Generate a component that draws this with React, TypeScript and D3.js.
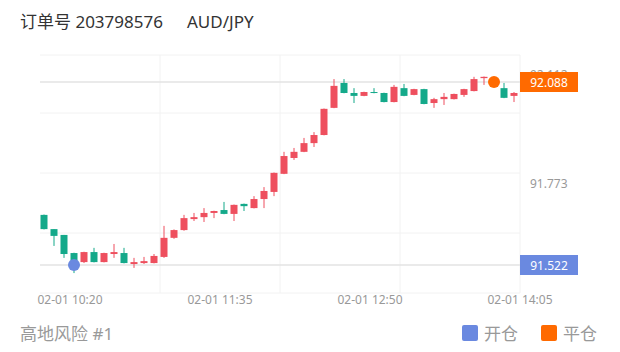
import React from "react";
import * as d3 from "d3";

// 5-minute candles, 02-01 10:05 .. 14:05
const opens = [91.677, 91.633, 91.615, 91.559, 91.531, 91.562, 91.531, 91.556, 91.559, 91.525, 91.528, 91.528, 91.547, 91.606, 91.630, 91.664, 91.670, 91.683, 91.692, 91.680, 91.711, 91.698, 91.726, 91.748, 91.804, 91.853, 91.872, 91.899, 91.924, 92.008, 92.085, 92.054, 92.045, 92.057, 92.054, 92.026, 92.069, 92.048, 92.066, 92.023, 92.035, 92.035, 92.048, 92.060, 92.100, 92.094, 92.069, 92.045];
const highs = [91.678, 91.633, 91.615, 91.560, 91.563, 91.575, 91.560, 91.587, 91.575, 91.544, 91.547, 91.556, 91.643, 91.632, 91.677, 91.683, 91.698, 91.690, 91.717, 91.709, 91.712, 91.735, 91.763, 91.808, 91.872, 91.884, 91.915, 91.933, 92.006, 92.097, 92.097, 92.069, 92.058, 92.069, 92.055, 92.079, 92.082, 92.067, 92.067, 92.039, 92.054, 92.052, 92.067, 92.104, 92.105, 92.100, 92.085, 92.057];
const lows = [91.632, 91.581, 91.544, 91.497, 91.528, 91.530, 91.530, 91.544, 91.527, 91.513, 91.525, 91.527, 91.544, 91.603, 91.628, 91.658, 91.655, 91.667, 91.679, 91.658, 91.689, 91.697, 91.698, 91.735, 91.803, 91.847, 91.871, 91.887, 91.923, 92.007, 92.053, 92.023, 92.044, 92.053, 92.025, 92.025, 92.044, 92.047, 92.019, 92.008, 92.017, 92.034, 92.042, 92.059, 92.079, 92.072, 92.038, 92.026];
const closes = [91.633, 91.612, 91.556, 91.531, 91.562, 91.531, 91.559, 91.562, 91.528, 91.531, 91.534, 91.550, 91.606, 91.630, 91.667, 91.670, 91.683, 91.689, 91.680, 91.708, 91.704, 91.726, 91.751, 91.807, 91.859, 91.872, 91.899, 91.924, 92.005, 92.076, 92.054, 92.045, 92.057, 92.054, 92.026, 92.073, 92.045, 92.066, 92.020, 92.035, 92.042, 92.051, 92.066, 92.097, 92.104, 92.073, 92.039, 92.054];

const startTime = new Date(2024, 1, 1, 10, 5);
const endTime = new Date(2024, 1, 1, 14, 5);
const tickTimes = ["10:20", "11:35", "12:50", "14:05"];
const yTicks = [92.112, 91.773];

const openPrice = 91.522;
const openIndex = 3;
const closePrice = 92.088;
const closeIndex = 45;

const orderNo = "203798576";
const symbol = "AUD/JPY";
const accountName = "高地风险 #1";

const UP = "#ee4f5e";
const DOWN = "#14a98a";
const OPEN_C = "#6a89e0";
const CLOSE_C = "#ff6a00";
const FONT = "'Noto Sans', 'Noto Sans CJK SC', sans-serif";

export default function App() {
  const W = 620, H = 352;
  const left = 40, right = 520, top = 55, bottom = 293;

  const x = d3.scaleTime().domain([startTime, endTime]).range([left, right]);
  const y = d3.scaleLinear().domain([openPrice, closePrice]).range([265, 82]);

  const candleTime = (i: number) => d3.timeMinute.offset(startTime, i * 5 + 2.5);
  const step = x(d3.timeMinute.offset(startTime, 5)) - x(startTime);
  const bodyW = step * 0.7;

  const hLines = [top, 113, 173, 233, bottom];
  const vLines = [160, 280, 400, right];

  const parseHM = (s: string) => {
    const [h, m] = s.split(":").map(Number);
    return new Date(2024, 1, 1, h, m);
  };

  return (
    <div style={{ margin: -8 }}>
      <svg width={W} height={H} style={{ display: "block", background: "#fff" }} fontFamily={FONT}>
        <text x={20} y={21} dominantBaseline="central" fontSize={17} fill="#333">
          订单号 {orderNo}
          <tspan x={187}>{symbol}</tspan>
        </text>

        {hLines.map((v, i) => (
          <line key={"h" + i} x1={left} x2={right} y1={v} y2={v} stroke="#f2f2f2" strokeWidth={1} />
        ))}
        {vLines.map((v, i) => (
          <line key={"v" + i} x1={v} x2={v} y1={top} y2={bottom} stroke="#f2f2f2" strokeWidth={1} />
        ))}

        <line x1={left} x2={right} y1={y(closePrice)} y2={y(closePrice)} stroke="#e3e3e3" strokeWidth={1.5} />
        <line x1={left} x2={right} y1={y(openPrice)} y2={y(openPrice)} stroke="#e3e3e3" strokeWidth={1.5} />

        {opens.map((o, i) => {
          const c = closes[i];
          const cx = x(candleTime(i));
          const col = c >= o ? UP : DOWN;
          const y1 = y(Math.max(o, c));
          const y2 = y(Math.min(o, c));
          return (
            <g key={i}>
              <line x1={cx} x2={cx} y1={y(highs[i])} y2={y(lows[i])} stroke={col} strokeWidth={1} />
              <rect x={cx - bodyW / 2} y={y1} width={bodyW} height={Math.max(1, y2 - y1)} fill={col} />
            </g>
          );
        })}

        <circle cx={x(candleTime(openIndex))} cy={y(openPrice)} r={6} fill={OPEN_C} />
        <circle cx={x(candleTime(closeIndex))} cy={y(closePrice)} r={6} fill={CLOSE_C} />

        {yTicks.map((t) => (
          <text key={t} x={530} y={y(t)} dominantBaseline="central" fontSize={12} fill="#999">
            {t.toFixed(3)}
          </text>
        ))}

        <rect x={right} y={y(closePrice) - 10} width={58} height={20} fill={CLOSE_C} />
        <text x={right + 29} y={y(closePrice)} textAnchor="middle" dominantBaseline="central" fontSize={12} fill="#fff">
          {closePrice.toFixed(3)}
        </text>
        <rect x={right} y={y(openPrice) - 10} width={58} height={20} fill={OPEN_C} />
        <text x={right + 29} y={y(openPrice)} textAnchor="middle" dominantBaseline="central" fontSize={12} fill="#fff">
          {openPrice.toFixed(3)}
        </text>

        {tickTimes.map((t) => (
          <text key={t} x={x(parseHM(t))} y={299} textAnchor="middle" dominantBaseline="central" fontSize={12} fill="#999">
            {"02-01 " + t}
          </text>
        ))}

        <text x={20} y={333} dominantBaseline="central" fontSize={17} fill="#999">
          {accountName}
        </text>

        <rect x={462} y={325} width={16} height={16} rx={2} fill={OPEN_C} />
        <text x={484} y={333} dominantBaseline="central" fontSize={17} fill="#999">开仓</text>
        <rect x={541} y={325} width={16} height={16} rx={2} fill={CLOSE_C} />
        <text x={563} y={333} dominantBaseline="central" fontSize={17} fill="#999">平仓</text>
      </svg>
    </div>
  );
}
